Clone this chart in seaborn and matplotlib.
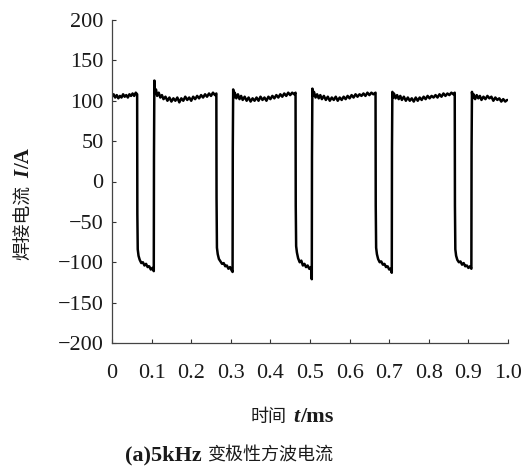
import matplotlib
matplotlib.use("Agg")
import matplotlib.pyplot as plt
import pandas as pd
import seaborn as sns

# waveform, segment by segment: (time ms, current A)
pos0 = [(0.000, 105), (0.004, 108), (0.008, 104), (0.012, 107), (0.016, 103), (0.020, 106),
        (0.024, 104), (0.028, 108), (0.032, 105), (0.036, 107), (0.040, 104), (0.044, 108),
        (0.048, 106), (0.052, 109), (0.056, 106), (0.060, 110), (0.0635, 108)]
neg1 = [(0.0640, -40), (0.0650, -84), (0.0670, -92), (0.0700, -97), (0.0740, -101), (0.0780, -100),
        (0.0820, -104), (0.0860, -102), (0.0900, -106), (0.0940, -105), (0.0980, -109),
        (0.1020, -107), (0.1055, -111)]
pos1 = [(0.1060, 30), (0.1070, 125), (0.1085, 109), (0.111, 114), (0.114, 106), (0.118, 110),
        (0.122, 104), (0.126, 107), (0.130, 102), (0.135, 105), (0.140, 100), (0.145, 104),
        (0.150, 99), (0.155, 103), (0.160, 100), (0.165, 104), (0.170, 98), (0.175, 103),
        (0.180, 100), (0.185, 105), (0.190, 101), (0.195, 104), (0.200, 100), (0.205, 105),
        (0.210, 102), (0.215, 106), (0.220, 103), (0.225, 107), (0.230, 104), (0.235, 108),
        (0.240, 105), (0.245, 109), (0.250, 106), (0.255, 110), (0.260, 107), (0.2635, 109)]
neg2 = [(0.2640, -20), (0.2650, -82), (0.2670, -90), (0.2700, -96), (0.2740, -99), (0.2780, -102),
        (0.2820, -101), (0.2860, -105), (0.2900, -104), (0.2940, -108), (0.2980, -106),
        (0.3020, -110), (0.3045, -112)]
pos2 = [(0.3050, 40), (0.3060, 114), (0.3075, 104), (0.310, 110), (0.314, 103), (0.318, 108),
        (0.322, 102), (0.326, 106), (0.330, 101), (0.335, 105), (0.340, 100), (0.345, 104),
        (0.350, 99), (0.355, 103), (0.360, 100), (0.365, 104), (0.370, 100), (0.375, 105),
        (0.380, 101), (0.385, 104), (0.390, 100), (0.395, 105), (0.400, 102), (0.405, 106),
        (0.410, 103), (0.415, 107), (0.420, 104), (0.425, 108), (0.430, 105), (0.435, 109),
        (0.440, 106), (0.445, 110), (0.450, 107), (0.455, 110), (0.460, 108), (0.4635, 110)]
neg3 = [(0.4640, -30), (0.4650, -80), (0.4670, -88), (0.4700, -95), (0.4740, -100), (0.4780, -98),
        (0.4820, -104), (0.4860, -102), (0.4900, -106), (0.4940, -104), (0.4980, -108),
        (0.5020, -106), (0.5035, -112), (0.5045, -121)]
pos3 = [(0.5050, 30), (0.5060, 115), (0.5075, 106), (0.510, 111), (0.514, 104), (0.518, 108),
        (0.522, 103), (0.526, 107), (0.530, 102), (0.535, 106), (0.540, 101), (0.545, 105),
        (0.550, 100), (0.555, 104), (0.560, 101), (0.565, 105), (0.570, 100), (0.575, 104),
        (0.580, 101), (0.585, 105), (0.590, 102), (0.595, 106), (0.600, 103), (0.605, 107),
        (0.610, 104), (0.615, 108), (0.620, 105), (0.625, 108), (0.630, 106), (0.635, 109),
        (0.640, 106), (0.645, 110), (0.650, 107), (0.655, 110), (0.660, 108), (0.6655, 110)]
neg4 = [(0.6660, -30), (0.6670, -82), (0.6690, -90), (0.6720, -96), (0.6760, -100), (0.6800, -99),
        (0.6840, -103), (0.6880, -102), (0.6920, -106), (0.6960, -105), (0.7000, -109),
        (0.7040, -108), (0.7065, -113)]
pos4 = [(0.7070, 40), (0.7080, 111), (0.7095, 104), (0.712, 109), (0.716, 103), (0.720, 107),
        (0.724, 102), (0.728, 106), (0.732, 101), (0.737, 105), (0.742, 100), (0.747, 104),
        (0.752, 100), (0.757, 103), (0.762, 99), (0.767, 104), (0.772, 100), (0.777, 104),
        (0.782, 101), (0.787, 105), (0.792, 102), (0.797, 106), (0.802, 103), (0.807, 106),
        (0.812, 104), (0.817, 107), (0.822, 104), (0.827, 108), (0.832, 105), (0.837, 109),
        (0.842, 106), (0.847, 109), (0.852, 107), (0.857, 110), (0.862, 108), (0.8655, 110)]
neg5 = [(0.8660, -30), (0.8670, -84), (0.8690, -92), (0.8720, -97), (0.8760, -100), (0.8800, -99),
        (0.8840, -103), (0.8880, -101), (0.8920, -105), (0.8960, -104), (0.9000, -107),
        (0.9040, -105), (0.9075, -108)]
pos5 = [(0.9080, 40), (0.9090, 111), (0.9105, 103), (0.913, 108), (0.917, 102), (0.921, 107),
        (0.925, 103), (0.929, 106), (0.933, 101), (0.938, 105), (0.943, 102), (0.948, 106),
        (0.953, 103), (0.958, 105), (0.963, 100), (0.968, 104), (0.973, 101), (0.978, 103),
        (0.983, 99), (0.988, 102), (0.993, 99), (0.998, 101)]

segments = [pos0, neg1, pos1, neg2, pos2, neg3, pos3, neg4, pos4, neg5, pos5]
x_ticks = [0, 0.1, 0.2, 0.3, 0.4, 0.5, 0.6, 0.7, 0.8, 0.9, 1.0]
x_labels = ["0", "0.1", "0.2", "0.3", "0.4", "0.5", "0.6", "0.7", "0.8", "0.9", "1.0"]
y_ticks = [-200, -150, -100, -50, 0, 50, 100, 150, 200]

rows = [p for seg in segments for p in seg]
df = pd.DataFrame(rows, columns=["t", "i"])

sns.set_style("ticks")
plt.rcParams["font.family"] = ["Liberation Serif", "Noto Sans CJK SC"]

W, H = 525, 470
fig = plt.figure(figsize=(W / 100, H / 100), dpi=100)
ax = fig.add_axes([112 / W, 1 - 343 / H, 396 / W, 323 / H])
sns.lineplot(data=df, x="t", y="i", ax=ax, color="black", linewidth=1.8,
             estimator=None, sort=False)

ax.set_xlim(0, 1.0)
ax.set_ylim(-200, 200)
ax.set_xticks(x_ticks)
ax.set_xticklabels(x_labels)
ax.set_yticks(y_ticks)
ax.set_xlabel("")
ax.set_ylabel("")
ax.tick_params(axis="both", direction="in", length=3, width=0.8, colors="#333333",
               labelsize=16, labelcolor="#1a1a1a")
ax.tick_params(axis="x", pad=15)
ax.tick_params(axis="y", pad=6)
for s in ["top", "right"]:
    ax.spines[s].set_visible(False)
for s in ["left", "bottom"]:
    ax.spines[s].set_color("#444444")
    ax.spines[s].set_linewidth(0.9)

renderer = fig.canvas.get_renderer()


def rich_label(cx, cy, pieces, vertical=False):
    # pieces: (text, size, style, weight, gap_px before); laid out along one baseline
    widths = []
    for txt, size, style, weight, gap in pieces:
        t = fig.text(0, 0, txt, fontsize=size, fontstyle=style, fontweight=weight)
        widths.append(t.get_window_extent(renderer).width)
        t.remove()
    total = sum(widths) + sum(p[4] for p in pieces)
    shift = max(p[1] for p in pieces) * 0.45
    pos = -total / 2
    for (txt, size, style, weight, gap), w in zip(pieces, widths):
        pos += gap
        if vertical:
            x, y, rot = cx + shift, cy + pos, 90
        else:
            x, y, rot = cx + pos, cy - shift, 0
        fig.text(x / W, y / H, txt, fontsize=size, fontstyle=style, fontweight=weight,
                 rotation=rot, rotation_mode="anchor", ha="left", va="baseline",
                 color="#1a1a1a")
        pos += w


rich_label(292, H - 415, [("时间", 13, "normal", "normal", 0),
                          ("t", 16, "italic", "bold", 7),
                          ("/ms", 16, "normal", "bold", 0)])
rich_label(22, H - 204, [("焊接电流", 13.5, "normal", "normal", 0),
                         ("I", 15, "italic", "bold", 7),
                         ("/A", 15, "normal", "bold", 0)], vertical=True)
rich_label(229, H - 453, [("(a)5kHz", 16, "normal", "bold", 0),
                          ("变极性方波电流", 13, "normal", "normal", 6)])

fig.savefig("out.png", dpi=100)
